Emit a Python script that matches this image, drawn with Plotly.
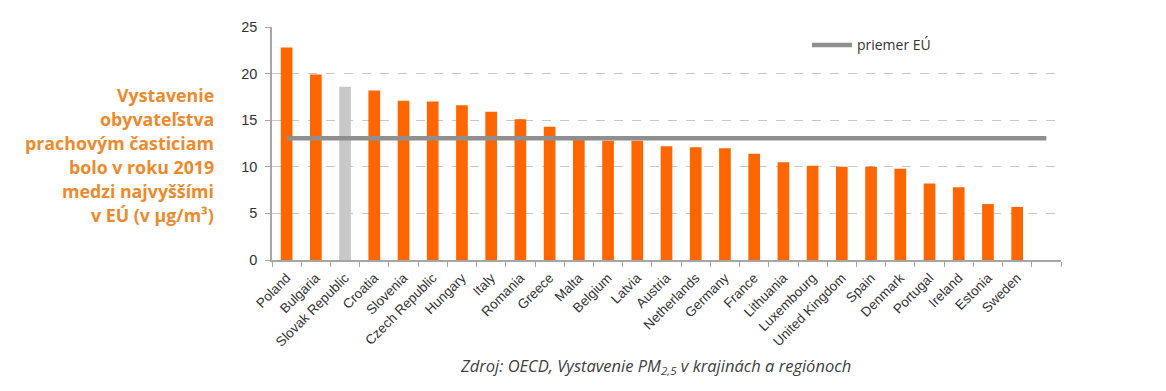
import plotly.graph_objects as go

countries = ["Poland", "Bulgaria", "Slovak Republic", "Croatia", "Slovenia", "Czech Republic",
             "Hungary", "Italy", "Romania", "Greece", "Malta", "Belgium", "Latvia", "Austria",
             "Netherlands", "Germany", "France", "Lithuania", "Luxembourg", "United Kingdom",
             "Spain", "Denmark", "Portugal", "Ireland", "Estonia", "Sweden"]
values = [22.8, 19.9, 18.6, 18.2, 17.1, 17.0, 16.6, 15.9, 15.1, 14.3, 13.0, 12.8, 12.8, 12.2,
          12.1, 12.0, 11.4, 10.5, 10.1, 10.0, 10.0, 9.8, 8.2, 7.8, 6.0, 5.7]
extra_category = [" "]
eu_average = 13.05
highlight = "Slovak Republic"
y_ticks = [0, 5, 10, 15, 20, 25]
title_lines = ["Vystavenie", "obyvateľstva", "prachovým časticiam", "bolo v roku 2019",
               "medzi najvyššími", "v EÚ (v µg/m³)"]

categories = countries + extra_category
ORANGE = "#FF6600"
GREY_BAR = "#C8C8C8"
bar_colors = [GREY_BAR if c == highlight else ORANGE for c in countries]

fig = go.Figure()
fig.add_trace(go.Bar(x=countries, y=values, marker=dict(color=bar_colors, line=dict(width=0)),
                     showlegend=False, hoverinfo="x+y"))
fig.add_trace(go.Scatter(x=[categories[0], categories[-1]], y=[eu_average, eu_average],
                         mode="lines", line=dict(color="#8F8F8F", width=4.5),
                         name="priemer EÚ"))

fig.update_layout(
    width=1166, height=391,
    margin=dict(l=264, r=113, t=11, b=139),
    paper_bgcolor="white", plot_bgcolor="white",
    bargap=0.6,
    font=dict(family="Liberation Sans, Arial, sans-serif", color="#333333"),
    legend=dict(x=0.678, y=0.921, xanchor="left", yanchor="middle", itemwidth=40,
                bgcolor="rgba(0,0,0,0)", font=dict(family="Open Sans, sans-serif", size=14, color="#333333")),
    xaxis=dict(categoryorder="array", categoryarray=categories, range=[-0.5, len(categories) - 0.5],
               tickangle=-45, tickfont=dict(size=13.5, color="#333333"), ticklabelstandoff=3,
               showline=True, linecolor="#A6A6A6", linewidth=1.5,
               ticks="outside", tickson="boundaries", ticklen=5, tickcolor="#A6A6A6",
               showgrid=False),
    yaxis=dict(range=[0, 25], tickvals=y_ticks, tickfont=dict(size=14.5, color="#333333"),
               showline=True, linecolor="#A6A6A6", linewidth=1.5,
               ticks="outside", ticklen=5, tickcolor="#A6A6A6", ticklabelstandoff=5,
               showgrid=True, gridcolor="#C8C8C8", griddash="dash", gridwidth=1,
               zeroline=False),
)

# title lines (page pixel centres converted to paper coordinates)
line_centres = [89.5, 114.3, 139.0, 163.8, 188.6, 213.4]
for txt, py in zip(title_lines, line_centres):
    fig.add_annotation(text="<b>" + txt + "</b>", xref="paper", yref="paper",
                       x=(216 - 272) / 789, y=(260 - py) / 241,
                       xanchor="right", yanchor="middle", align="right", showarrow=False,
                       font=dict(family="Open Sans, sans-serif", size=17.8, color="#EE8A2C"))

fig.add_annotation(text="<i>Zdroj: OECD, Vystavenie PM<sub>2,5</sub> v krajinách a regiónoch</i>",
                   xref="paper", yref="paper", x=(655 - 272) / 789, y=(260 - 370) / 241,
                   xanchor="center", yanchor="middle", showarrow=False,
                   font=dict(family="Open Sans, sans-serif", size=16.5, color="#404040"))

fig.write_html("out.html")
